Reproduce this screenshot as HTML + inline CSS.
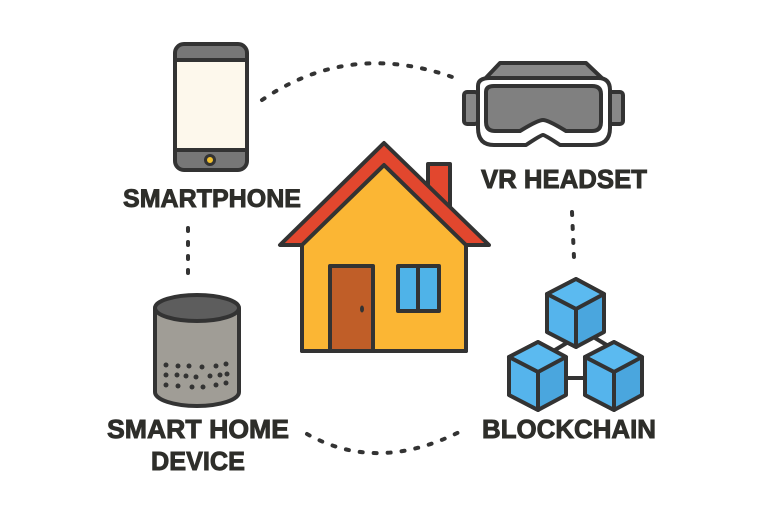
<!DOCTYPE html>
<html><head><meta charset="utf-8"><style>
html,body{margin:0;padding:0;background:#fff;}
svg{display:block}
text{font-family:"Liberation Sans",sans-serif;font-weight:bold;fill:#2e2e2a;stroke:#2e2e2a;stroke-width:0.9;}
</style></head><body>
<svg width="768" height="512" viewBox="0 0 768 512" xmlns="http://www.w3.org/2000/svg">
<rect width="768" height="512" fill="#fff"/>
<g fill="none" stroke="#333" stroke-width="4" stroke-linecap="round" stroke-dasharray="3 11">
<path d="M262 100 Q350 40 455 78"/>
<path d="M188 228 L188 276"/>
<path d="M572 212 L574 258"/>
<path d="M307 434 Q380 475 467 428"/>
</g>
<!-- phone -->
<g stroke="#333" stroke-width="4">
<rect x="175" y="44" width="72" height="126" rx="9" fill="#777"/>
<rect x="175" y="60" width="72" height="90" fill="#fdf8ec"/>
<circle cx="210" cy="160" r="4.5" fill="#f2c12e" stroke-width="3"/>
</g>
<!-- VR -->
<g stroke="#333" stroke-width="4" stroke-linejoin="round">
<rect x="464" y="92" width="14" height="32" rx="3" fill="#888"/>
<rect x="609" y="92" width="14" height="32" rx="3" fill="#888"/>
<path d="M500 63 L586 63 L606 82 L482 82 Z" fill="#888"/>
<path d="M478 86 Q478 78 490 78 L598 78 Q610 78 610 90 L610 128 Q610 145 592 145 L560 145 Q545 135 543 135 Q541 135 526 145 L494 145 Q478 145 478 128 Z" fill="#fff"/>
<path d="M486 92 Q486 86 494 86 L592 86 Q601 86 601 94 L601 122 Q601 131 592 131 L566 131 Q548 120 543 120 Q538 120 520 131 L495 131 Q486 131 486 122 Z" fill="#808080"/>
</g>
<!-- house -->
<g stroke="#333" stroke-width="4" stroke-linejoin="round">
<rect x="428" y="164" width="22" height="50" fill="#e2472e"/>
<rect x="302" y="230" width="164" height="121" fill="#fbb634"/>
<path d="M384 165 L302 245 L302 351 L466 351 L466 245 Z" fill="#fbb634"/>
<path d="M384 143 L280 245 L302 245 L384 165 L466 245 L489 245 Z" fill="#e2472e"/>
<rect x="330" y="266" width="43" height="85" fill="#c05e28"/>
<ellipse cx="362" cy="309" rx="2" ry="3.5" fill="#333" stroke="none"/>
<rect x="398" y="266" width="41" height="45" fill="#4fb3e8"/>
<line x1="418" y1="266" x2="418" y2="311"/>
</g>
<!-- speaker -->
<g stroke="#333" stroke-width="4">
<path d="M155 308 L155 392 A42 14 0 0 0 239 392 L239 308" fill="#a09d96"/>
<ellipse cx="197" cy="308" rx="42" ry="13" fill="#5d5d5d"/>
<g fill="#333" stroke="none">
<circle cx="166" cy="365" r="2.5"/><circle cx="178" cy="366" r="2.5"/><circle cx="189" cy="366" r="2.5"/><circle cx="202" cy="367" r="2.5"/><circle cx="216" cy="366" r="2.5"/><circle cx="226" cy="364" r="2.5"/>
<circle cx="166" cy="375" r="2.5"/><circle cx="177" cy="375" r="2.5"/><circle cx="186" cy="376" r="2.5"/><circle cx="196" cy="377" r="2.5"/><circle cx="210" cy="376" r="2.5"/><circle cx="220" cy="375" r="2.5"/><circle cx="227" cy="374" r="2.5"/>
<circle cx="166" cy="385" r="2.5"/><circle cx="178" cy="386" r="2.5"/><circle cx="192" cy="387" r="2.5"/><circle cx="203" cy="387" r="2.5"/><circle cx="216" cy="385" r="2.5"/><circle cx="226" cy="383" r="2.5"/>
</g>
</g>
<!-- blockchain -->
<g stroke="#333" stroke-width="4" stroke-linejoin="round">
<line x1="555" y1="350" x2="575" y2="338"/><line x1="595" y1="338" x2="615" y2="350"/><line x1="567" y1="378" x2="588" y2="378"/>
<g id="cube">
<path d="M576 279 L604 294 L604 332 L576 347 L547 332 L547 294 Z" fill="#4aa6de"/>
<path d="M576 279 L604 294 L576 309 L547 294 Z" fill="#5bbaf0"/>
<path d="M547 294 L576 309 L576 347 L547 332 Z" fill="#55b4ec"/>
</g>
<use href="#cube" x="-38" y="63"/>
<use href="#cube" x="38" y="63"/>
</g>
<text x="212" y="207" font-size="25" text-anchor="middle" textLength="178" lengthAdjust="spacingAndGlyphs">SMARTPHONE</text>
<text x="564" y="188" font-size="26" text-anchor="middle" textLength="166" lengthAdjust="spacingAndGlyphs">VR HEADSET</text>
<text x="198" y="438" font-size="26" text-anchor="middle" textLength="182" lengthAdjust="spacingAndGlyphs">SMART HOME</text>
<text x="198" y="470" font-size="26" text-anchor="middle" textLength="94" lengthAdjust="spacingAndGlyphs">DEVICE</text>
<text x="569" y="438" font-size="26" text-anchor="middle" textLength="174" lengthAdjust="spacingAndGlyphs">BLOCKCHAIN</text>
</svg>
</body></html>
